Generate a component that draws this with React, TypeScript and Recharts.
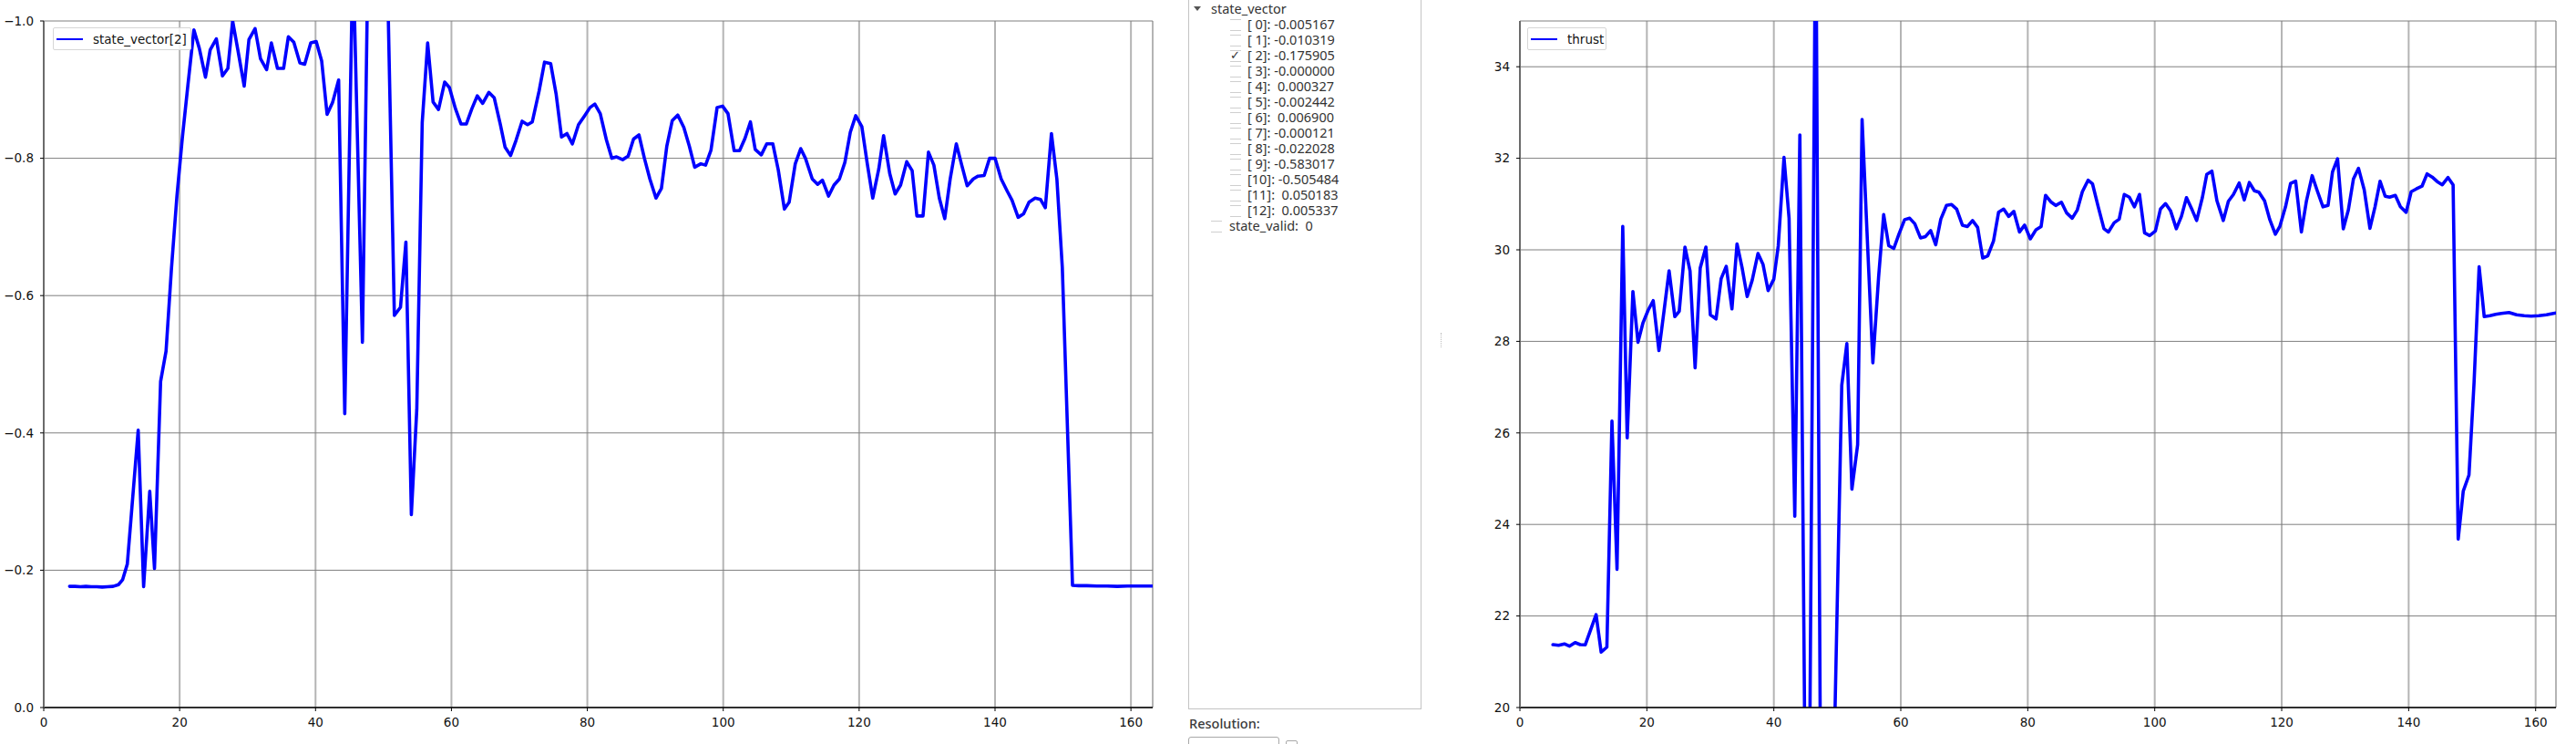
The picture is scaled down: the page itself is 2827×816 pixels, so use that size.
import React from "react";
import { LineChart, Line, XAxis, YAxis, CartesianGrid, Legend } from "recharts";

// shared x axis (time, s)
const xTicks = [0, 20, 40, 60, 80, 100, 120, 140, 160];
const xMax = 163.2;

const stateTicks = [0, -0.2, -0.4, -0.6, -0.8, -1.0];
const thrustTicks = [20, 22, 24, 26, 28, 30, 32, 34];

// state_vector[2] samples, [t, value]
const stateVector2: [number, number][] = [
  [3.8, -0.1765], [4.6, -0.1765], [5.4, -0.176], [6.2, -0.1765], [7.0, -0.176], [7.8, -0.176],
  [8.6, -0.1755], [9.4, -0.176], [10.2, -0.1765], [11.0, -0.179], [11.6, -0.186], [12.3, -0.209],
  [12.9, -0.282], [13.9, -0.404], [14.7, -0.176], [15.6, -0.315], [16.3, -0.2025], [17.2, -0.475],
  [18.0, -0.519], [18.8, -0.64], [19.6, -0.745], [20.4, -0.83], [21.2, -0.905], [22.1, -0.987],
  [22.9, -0.96], [23.8, -0.918], [24.5, -0.958], [25.4, -0.974], [26.3, -0.92], [27.1, -0.931],
  [27.8, -1.0], [28.6, -0.956], [29.5, -0.905], [30.2, -0.973], [31.1, -0.989], [31.9, -0.945],
  [32.8, -0.929], [33.5, -0.968], [34.4, -0.931], [35.3, -0.931], [36.0, -0.977], [36.8, -0.969],
  [37.7, -0.939], [38.4, -0.937], [39.3, -0.968], [40.1, -0.97], [40.9, -0.942], [41.7, -0.864],
  [42.5, -0.881], [43.4, -0.914], [44.3, -0.428], [45.5, -1.1], [46.9, -0.532], [47.7, -1.08],
  [48.5, -1.25], [49.3, -1.3], [50.1, -1.3], [51.6, -0.571], [52.5, -0.583], [53.3, -0.678],
  [54.1, -0.281], [54.9, -0.434], [55.7, -0.852], [56.5, -0.968], [57.3, -0.882], [58.1, -0.871],
  [59.0, -0.911], [59.7, -0.903], [60.6, -0.872], [61.4, -0.85], [62.2, -0.85], [63.0, -0.872],
  [63.8, -0.891], [64.6, -0.88], [65.5, -0.896], [66.3, -0.888], [67.2, -0.849], [67.9, -0.816],
  [68.7, -0.804], [69.5, -0.826], [70.4, -0.854], [71.2, -0.849], [71.9, -0.853], [72.9, -0.898],
  [73.7, -0.94], [74.6, -0.938], [75.4, -0.894], [76.2, -0.831], [77.0, -0.836], [77.8, -0.821],
  [78.7, -0.849], [79.6, -0.862], [80.4, -0.874], [81.1, -0.879], [81.9, -0.865], [82.8, -0.827],
  [83.6, -0.8], [84.3, -0.802], [85.2, -0.798], [86.0, -0.803], [86.8, -0.828], [87.6, -0.834],
  [88.4, -0.8], [89.2, -0.77], [90.1, -0.742], [90.9, -0.756], [91.7, -0.818], [92.5, -0.855],
  [93.3, -0.863], [94.2, -0.845], [95.0, -0.818], [95.8, -0.787], [96.7, -0.792], [97.4, -0.79],
  [98.2, -0.812], [99.1, -0.874], [99.9, -0.876], [100.7, -0.865], [101.6, -0.811], [102.4, -0.811],
  [103.2, -0.829], [104.0, -0.853], [104.7, -0.813], [105.6, -0.805], [106.4, -0.821], [107.3, -0.821],
  [108.1, -0.783], [109.0, -0.726], [109.7, -0.736], [110.6, -0.792], [111.4, -0.814], [112.1, -0.8],
  [113.1, -0.77], [113.9, -0.762], [114.6, -0.768], [115.5, -0.745], [116.3, -0.761], [117.1, -0.77],
  [117.9, -0.794], [118.7, -0.838], [119.5, -0.862], [120.4, -0.846], [121.2, -0.792], [122.0, -0.742],
  [122.9, -0.785], [123.6, -0.833], [124.5, -0.778], [125.3, -0.748], [126.1, -0.761], [127.0, -0.795],
  [127.8, -0.782], [128.5, -0.716], [129.4, -0.716], [130.2, -0.809], [131.0, -0.79], [131.8, -0.742],
  [132.6, -0.712], [133.4, -0.77], [134.3, -0.821], [135.1, -0.79], [135.9, -0.76], [136.8, -0.77],
  [137.5, -0.774], [138.4, -0.775], [139.2, -0.8], [140.0, -0.8], [140.9, -0.77], [141.8, -0.752],
  [142.5, -0.739], [143.4, -0.714], [144.2, -0.719], [145.0, -0.736], [145.9, -0.742], [146.7, -0.74],
  [147.4, -0.728], [148.3, -0.836], [149.1, -0.77], [149.9, -0.641], [151.4, -0.178], [152.3, -0.1775],
  [153.5, -0.1775], [155.0, -0.177], [156.5, -0.177], [158.0, -0.1765], [159.5, -0.177], [161.0, -0.177],
  [162.5, -0.177], [163.5, -0.177],
];

// thrust samples, [t, value]
const thrust: [number, number][] = [
  [5.2, 21.375], [6.1, 21.36], [7.0, 21.39], [7.8, 21.34], [8.7, 21.42], [9.5, 21.375], [10.3, 21.37],
  [11.2, 21.72], [12.0, 22.03], [12.8, 21.21], [13.7, 21.32], [14.5, 26.26], [15.3, 23.02], [16.2, 30.51],
  [16.9, 25.89], [17.8, 29.09], [18.6, 27.98], [19.4, 28.41], [20.2, 28.68], [21.0, 28.89], [21.9, 27.8],
  [22.7, 28.66], [23.5, 29.54], [24.4, 28.54], [25.1, 28.66], [26.0, 30.06], [26.8, 29.54], [27.6, 27.42],
  [28.4, 29.6], [29.3, 30.06], [30.0, 28.58], [30.9, 28.49], [31.7, 29.37], [32.5, 29.64], [33.4, 28.71],
  [34.2, 30.13], [35.0, 29.61], [35.8, 28.98], [36.6, 29.34], [37.5, 29.92], [38.3, 29.68], [39.1, 29.11],
  [40.0, 29.36], [40.7, 30.09], [41.6, 32.02], [42.4, 30.69], [43.3, 24.18], [44.1, 32.51], [45.3, 12],
  [46.6, 38], [47.6, 12], [48.5, 10], [49.5, 19], [50.7, 27.04], [51.5, 27.95], [52.3, 24.77],
  [53.2, 25.74], [53.9, 32.85], [54.8, 30.0], [55.6, 27.53], [56.5, 29.4], [57.3, 30.77], [58.1, 30.09],
  [58.9, 30.03], [59.7, 30.34], [60.6, 30.66], [61.4, 30.69], [62.2, 30.57], [63.1, 30.26], [63.9, 30.29],
  [64.7, 30.42], [65.5, 30.11], [66.3, 30.67], [67.2, 30.97], [68.0, 30.99], [68.8, 30.89], [69.7, 30.54],
  [70.5, 30.51], [71.3, 30.64], [72.1, 30.49], [72.9, 29.82], [73.7, 29.87], [74.6, 30.19], [75.4, 30.82],
  [76.2, 30.89], [77.0, 30.73], [77.8, 30.84], [78.7, 30.39], [79.5, 30.54], [80.4, 30.24], [81.3, 30.44],
  [82.1, 30.51], [82.8, 31.19], [83.7, 31.04], [84.4, 30.97], [85.3, 31.04], [86.1, 30.81], [87.0, 30.69],
  [87.8, 30.87], [88.6, 31.27], [89.5, 31.52], [90.2, 31.44], [91.1, 30.94], [92.0, 30.46], [92.7, 30.39],
  [93.6, 30.59], [94.4, 30.67], [95.2, 31.21], [96.0, 31.15], [96.8, 30.94], [97.6, 31.21], [98.4, 30.37],
  [99.2, 30.31], [100.1, 30.41], [100.9, 30.89], [101.7, 31.01], [102.5, 30.85], [103.4, 30.46], [104.2, 30.73],
  [105.0, 31.14], [105.9, 30.87], [106.6, 30.64], [107.5, 31.14], [108.2, 31.65], [109.0, 31.72], [109.8, 31.07],
  [110.8, 30.64], [111.6, 31.06], [112.4, 31.21], [113.3, 31.46], [114.1, 31.09], [114.9, 31.47], [115.7, 31.29],
  [116.4, 31.26], [117.3, 31.07], [118.1, 30.67], [119.0, 30.34], [119.7, 30.51], [120.6, 30.94], [121.4, 31.45],
  [122.2, 31.5], [123.1, 30.39], [123.9, 31.07], [124.8, 31.62], [125.6, 31.29], [126.5, 30.94], [127.3, 30.97],
  [128.0, 31.7], [128.8, 31.99], [129.7, 30.46], [130.5, 30.87], [131.3, 31.55], [132.1, 31.78], [133.0, 31.31],
  [133.9, 30.47], [134.7, 30.94], [135.5, 31.5], [136.3, 31.17], [137.0, 31.15], [137.9, 31.19], [138.7, 30.94],
  [139.6, 30.82], [140.4, 31.27], [141.2, 31.33], [142.1, 31.39], [142.9, 31.66], [143.7, 31.59], [144.5, 31.49],
  [145.3, 31.42], [146.2, 31.58], [147.0, 31.42], [147.8, 23.68], [148.6, 24.73], [149.5, 25.08], [150.3, 27.1],
  [151.1, 29.63], [151.9, 28.54], [152.8, 28.56], [153.7, 28.59], [154.6, 28.61], [155.8, 28.63], [157.0, 28.58],
  [158.2, 28.56], [159.3, 28.55], [160.5, 28.56], [161.7, 28.58], [162.8, 28.61], [163.6, 28.63],
];

// topic tree on the side panel
const treeIndices = ["[ 0]", "[ 1]", "[ 2]", "[ 3]", "[ 4]", "[ 5]", "[ 6]", "[ 7]", "[ 8]", "[ 9]", "[10]", "[11]", "[12]"];
const treeValues = ["-0.005167", "-0.010319", "-0.175905", "-0.000000", " 0.000327", "-0.002442", " 0.006900",
  "-0.000121", "-0.022028", "-0.583017", "-0.505484", " 0.050183", " 0.005337"];
const checkedIndex = 2;

const tickFont = { fill: "#111", fontSize: 13.5, fontFamily: "DejaVu Sans" };
const BLUE = "#0000ff";

const fmtState = (v: number) => (v === 0 ? "0.0" : "\u2212" + Math.abs(v).toFixed(1));

function legendBox(label: string, width: number) {
  return () => (
    <div
      style={{
        width, height: 25, boxSizing: "border-box", border: "1px solid #d6d6d6", borderRadius: 2,
        background: "rgba(255,255,255,0.85)", display: "flex", alignItems: "center",
        fontFamily: "DejaVu Sans", fontSize: 13.5, color: "#111", whiteSpace: "nowrap",
      }}
    >
      <span style={{ display: "inline-block", width: 29, borderTop: `2px solid ${BLUE}`, marginLeft: 3, marginRight: 11 }} />
      {label}
    </div>
  );
}

type PlotProps = {
  points: [number, number][];
  name: string;
  legendWidth: number;
  legendLeft: number;
  width: number;
  marginLeft: number;
  marginRight: number;
  yDomain: [number, number];
  yTicks: number[];
  reversed?: boolean;
  fmt?: (v: number) => string;
};

function Plot(p: PlotProps) {
  const data = p.points.map(([x, y]) => ({ x, y }));
  return (
    <LineChart width={p.width} height={816} data={data}
      margin={{ top: 23, right: p.marginRight, bottom: 10, left: p.marginLeft }}>
      <CartesianGrid horizontal={false} stroke="#b4b4b4" strokeWidth={2} />
      <CartesianGrid vertical={false} stroke="#7f7f7f" strokeWidth={1} />
      <Line type="linear" dataKey="y" name={p.name} stroke={BLUE} strokeWidth={3.6} dot={false}
        strokeLinejoin="round" strokeLinecap="round" isAnimationActive={false} />
      <XAxis type="number" dataKey="x" domain={[0, xMax]} ticks={xTicks} interval={0} allowDataOverflow
        height={30} tickSize={4} tickMargin={7} tick={tickFont}
        axisLine={{ stroke: "#000", strokeWidth: 1.5 }} tickLine={{ stroke: "#000" }} />
      <XAxis xAxisId="top" orientation="top" type="number" domain={[0, xMax]} allowDataOverflow
        height={0} tick={false} tickLine={false} axisLine={{ stroke: "#000", strokeWidth: 1.5 }} />
      <YAxis type="number" domain={p.yDomain} ticks={p.yTicks} interval={0} reversed={p.reversed}
        allowDataOverflow width={44} tickSize={4} tickMargin={7} tick={tickFont} tickFormatter={p.fmt}
        axisLine={{ stroke: "#6b6b6b", strokeWidth: 2 }} tickLine={{ stroke: "#000" }} />
      <YAxis yAxisId="right" orientation="right" type="number" domain={p.yDomain} allowDataOverflow
        width={0} tick={false} tickLine={false} axisLine={{ stroke: "#6b6b6b", strokeWidth: 2 }} />
      <Legend layout="vertical" align="center" verticalAlign="middle"
        content={legendBox(p.name, p.legendWidth)}
        wrapperStyle={{ left: p.legendLeft, top: 30, width: p.legendWidth, height: 25 }} />
    </LineChart>
  );
}

function TopicTree() {
  const text: React.CSSProperties = {
    position: "absolute", fontFamily: "Noto Sans", fontSize: 14.5, color: "#333", lineHeight: "17px",
    whiteSpace: "pre",
  };
  const box = (left: number, top: number): React.CSSProperties => ({
    position: "absolute", left, top, width: 12, height: 11,
    borderTop: "1px solid #cfcfcf", borderBottom: "1px solid #cfcfcf",
  });
  return (
    <div style={{ position: "absolute", left: 0, top: 0 }}>
      <div style={{ position: "absolute", left: 1304, top: -2, width: 256, height: 780, boxSizing: "border-box",
        border: "1px solid #c4c4c4" }} />
      <div style={{ position: "absolute", left: 1310, top: 7, width: 0, height: 0,
        borderLeft: "4px solid transparent", borderRight: "4px solid transparent", borderTop: "5px solid #555" }} />
      <div style={{ ...text, left: 1329, top: 1 }}>state_vector</div>
      {treeIndices.map((idx, i) => {
        const top = 18 + i * 17;
        return (
          <React.Fragment key={idx}>
            <div style={box(1350, top + 3)} />
            {i === checkedIndex && (
              <div style={{ ...text, left: 1350, top: top, fontFamily: "DejaVu Sans", fontSize: 13 }}>{"\u2713"}</div>
            )}
            <div style={{ ...text, left: 1369, top }}>{`${idx}: ${treeValues[i]}`}</div>
          </React.Fragment>
        );
      })}
      <div style={box(1329, 18 + 13 * 17 + 3)} />
      <div style={{ ...text, left: 1349, top: 18 + 13 * 17 }}>{"state_valid:  0"}</div>
      <div style={{ ...text, left: 1305, top: 785, fontWeight: 500, color: "#3a3a3a" }}>Resolution:</div>
      <div style={{ position: "absolute", left: 1304, top: 808, width: 100, height: 20, boxSizing: "border-box",
        border: "1px solid #a8a8a8", borderRadius: 3 }} />
      <div style={{ position: "absolute", left: 1411, top: 812, width: 13, height: 13, boxSizing: "border-box",
        border: "1px solid #a8a8a8", borderRadius: 2 }} />
      <div style={{ position: "absolute", left: 1581, top: 365, height: 16, borderLeft: "1px dotted #bdbdbd" }} />
    </div>
  );
}

export default function App() {
  return (
    <div style={{ position: "absolute", left: 0, top: 0, width: 2827, height: 816, background: "#fff", overflow: "hidden" }}>
      <div style={{ position: "absolute", left: 0, top: 0 }}>
        <Plot points={stateVector2} name="state_vector[2]" legendWidth={152} legendLeft={58}
          width={1290} marginLeft={4} marginRight={25} yDomain={[-1, 0]} yTicks={stateTicks}
          reversed fmt={fmtState} />
      </div>
      <TopicTree />
      <div style={{ position: "absolute", left: 1580, top: 0 }}>
        <Plot points={thrust} name="thrust" legendWidth={87} legendLeft={96}
          width={1247} marginLeft={44} marginRight={22} yDomain={[20, 35]} yTicks={thrustTicks}
          fmt={(v: number) => String(v)} />
      </div>
    </div>
  );
}
